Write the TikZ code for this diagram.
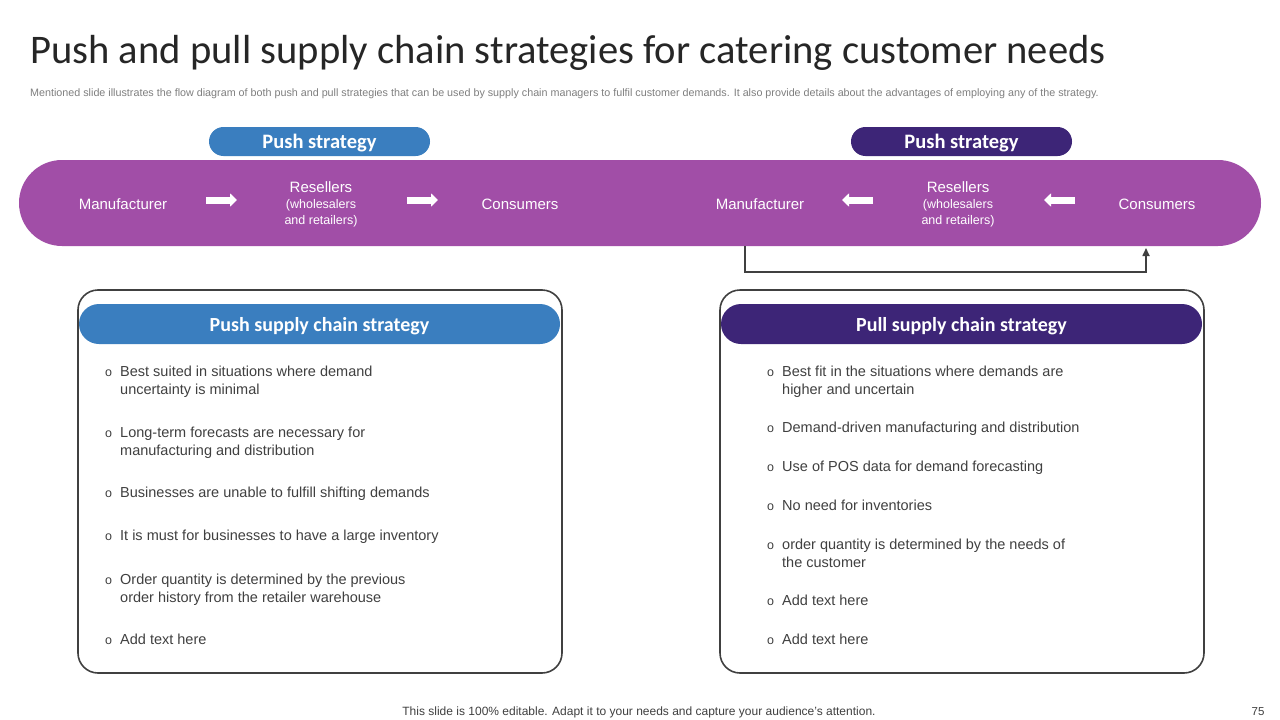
\documentclass[tikz,border=0pt]{standalone}
\usepackage{fontspec}
\setmainfont{Liberation Sans}
\newfontfamily\calfont{Carlito}
\usetikzlibrary{arrows.meta}
\definecolor{bandpurple}{HTML}{A14EA7}
\definecolor{pushblue}{HTML}{3A7EBF}
\definecolor{pulldark}{HTML}{3D2577}
\definecolor{txtgray}{HTML}{404040}
\definecolor{subgray}{HTML}{7F7F7F}
\definecolor{titlecol}{HTML}{262626}
\newcommand{\bul}[1]{\begin{tabular}[t]{@{}p{15pt}@{}l@{}}{\fontsize{12.5}{18}\selectfont o} & #1\end{tabular}}
\begin{document}
\begin{tikzpicture}[x=1pt,y=-1pt,
  bandtxt/.style={text=white,font=\fontsize{15}{16}\selectfont,inner sep=0pt,anchor=base},
  smalltxt/.style={text=white,font=\fontsize{12.5}{16}\selectfont,inner sep=0pt,anchor=base},
  pill/.style={rounded corners=14.5pt,inner sep=0pt,minimum width=221pt,minimum height=29pt,text=white,font=\calfont\bfseries\fontsize{20.5}{21}\selectfont},
  hdr/.style={rounded corners=20pt,inner sep=0pt,minimum width=481pt,minimum height=40pt,text=white,font=\calfont\bfseries\fontsize{20}{21}\selectfont},
  frame/.style={draw=txtgray,line width=1.6pt,rounded corners=20pt},
  blockarrow/.style={draw=white,line width=7pt,-{Triangle[width=13pt,length=7pt]}},
  bullet/.style={anchor=base west,inner sep=0pt,text=txtgray,font=\fontsize{14.5}{18}\selectfont},
  feedback/.style={draw=txtgray,line width=1.6pt,-{Triangle[width=7pt,length=8pt]}}
]
\useasboundingbox[fill=white] (0,0) rectangle (1280,720);
% title
\node[anchor=base west,inner sep=0pt,text=titlecol,font=\calfont\fontsize{40.6}{44}\selectfont] (title) at (30,63) {Push and pull supply chain strategies for catering customer needs};
\node[anchor=base west,inner sep=0pt,text=subgray,font=\fontsize{10.75}{12}\selectfont] (sub) at (30,96.5) {Mentioned slide illustrates the flow diagram of both push and pull strategies that can be used by supply chain managers to fulfil customer demands. It also provide details about the advantages of employing any of the strategy.};
% band
\fill[bandpurple,rounded corners=43pt] (19,160) rectangle (1261,246);
\fill[pushblue,rounded corners=14.5pt] (209,127) rectangle (430,156);
\fill[pulldark,rounded corners=14.5pt] (851,127) rectangle (1072,156);
\node[inner sep=0pt,anchor=base,text=white,font=\calfont\bfseries\fontsize{20.5}{21}\selectfont] (pushL) at (319.5,148) {Push strategy};
\node[inner sep=0pt,anchor=base,text=white,font=\calfont\bfseries\fontsize{20.5}{21}\selectfont] (pushR) at (961.5,148) {Push strategy};
% left flow
\node[bandtxt] (manL) at (123,209) {Manufacturer};
\node[bandtxt] (resL) at (321,192) {Resellers};
\node[smalltxt] (whL) at (321,208.5) {(wholesalers};
\node[smalltxt] (arL) at (321,224.5) {and retailers)};
\node[bandtxt] (conL) at (520,209) {Consumers};
\coordinate (a1s) at (206,200); \coordinate (a1e) at (237,200);
\coordinate (a2s) at (407,200); \coordinate (a2e) at (438,200);
\draw[blockarrow] (a1s) -- (a1e);
\draw[blockarrow] (a2s) -- (a2e);
% right flow
\node[bandtxt] (manR) at (760,209) {Manufacturer};
\node[bandtxt] (resR) at (958,192) {Resellers};
\node[smalltxt] (whR) at (958,208.5) {(wholesalers};
\node[smalltxt] (arR) at (958,224.5) {and retailers)};
\node[bandtxt] (conR) at (1157,209) {Consumers};
\coordinate (a3s) at (873,200); \coordinate (a3e) at (842,200);
\coordinate (a4s) at (1075,200); \coordinate (a4e) at (1044,200);
\draw[blockarrow] (a3s) -- (a3e);
\draw[blockarrow] (a4s) -- (a4e);
% feedback connector
\coordinate (fbS) at (745,246);
\coordinate (fbE) at (1146,248);
\draw[feedback] (fbS) -- (745,272) -| (fbE);
% left box
\draw[frame] (78,290) rectangle (562,673);
\fill[pushblue,rounded corners=20pt] (79,304) rectangle (560,344);
\node[inner sep=0pt,anchor=base,text=white,font=\calfont\bfseries\fontsize{20}{21}\selectfont] (hdrL) at (319.5,331) {Push supply chain strategy};
\node[bullet] (l1) at (105,376) {\bul{Best suited in situations where demand\\ & uncertainty is minimal}};
\node[bullet] (l2) at (105,437) {\bul{Long-term forecasts are necessary for\\ & manufacturing and distribution}};
\node[bullet] (l3) at (105,497) {\bul{Businesses are unable to fulfill shifting demands}};
\node[bullet] (l4) at (105,540) {\bul{It is must for businesses to have a large inventory}};
\node[bullet] (l5) at (105,584) {\bul{Order quantity is determined by the previous\\ & order history from the retailer warehouse}};
\node[bullet] (l6) at (105,644) {\bul{Add text here}};
% right box
\draw[frame] (720,290) rectangle (1204,673);
\fill[pulldark,rounded corners=20pt] (721,304) rectangle (1202,344);
\node[inner sep=0pt,anchor=base,text=white,font=\calfont\bfseries\fontsize{20}{21}\selectfont] (hdrR) at (961.5,331) {Pull supply chain strategy};
\node[bullet] (r1) at (767,376) {\bul{Best fit in the situations where demands are\\ & higher and uncertain}};
\node[bullet] (r2) at (767,432) {\bul{Demand-driven manufacturing and distribution}};
\node[bullet] (r3) at (767,471) {\bul{Use of POS data for demand forecasting}};
\node[bullet] (r4) at (767,510) {\bul{No need for inventories}};
\node[bullet] (r5) at (767,549) {\bul{order quantity is determined by the needs of\\ & the customer}};
\node[bullet] (r6) at (767,605) {\bul{Add text here}};
\node[bullet] (r7) at (767,644) {\bul{Add text here}};
% footer
\node[anchor=base,inner sep=0pt,text=txtgray,font=\fontsize{12}{13}\selectfont] (foot) at (639,715) {This slide is 100\% editable. Adapt it to your needs and capture your audience's attention.};
\node[anchor=base,inner sep=0pt,text=txtgray,font=\fontsize{11.5}{12}\selectfont] (pnum) at (1258,715) {75};
\end{tikzpicture}
\end{document}
